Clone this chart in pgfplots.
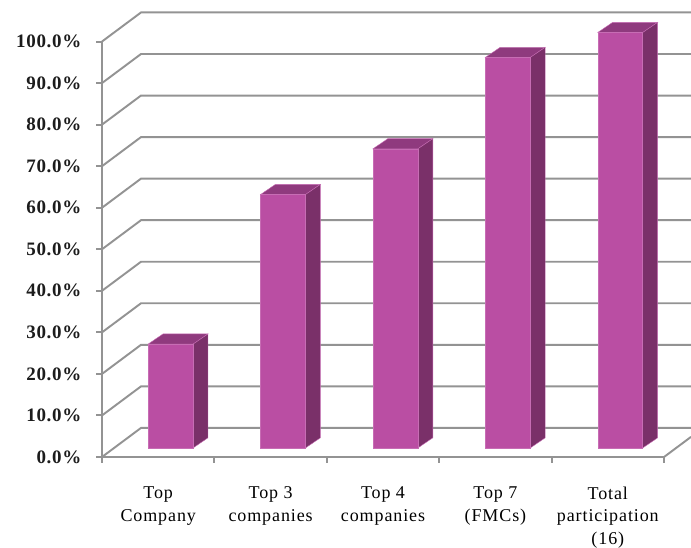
\documentclass[border=0pt]{standalone}
\usepackage{pgfplots}
\pgfplotsset{compat=1.18}
\usepackage{fontspec}
\setmainfont{Liberation Serif}
\definecolor{gridgray}{HTML}{939393}
\definecolor{barfront}{HTML}{BA4EA3}
\definecolor{barside}{HTML}{7A3069}
\definecolor{bartop}{HTML}{8F3A7E}
\definecolor{baredge}{HTML}{C76DB4}
\definecolor{labelblack}{HTML}{1C1C1C}
\newlength{\pxu}
\setlength{\pxu}{0.75pt}

% One gridline: front edge of the left wall, then along the back wall
\newcommand{\wallline}[1]{%
  \pgfmathsetmacro{\backy}{#1+7}%
  \addplot[gridgray, line width=1.45pt] coordinates {(0,#1) (0.347,\backy) (5.24,\backy)};
}
% One column with a front, a side and a top face: category index, value
\newcommand{\column}[2]{%
  \pgfmathsetmacro{\xa}{#1+0.41}%
  \pgfmathsetmacro{\xb}{#1+0.81}%
  \pgfmathsetmacro{\xc}{#1+0.943}%
  \pgfmathsetmacro{\xd}{#1+0.543}%
  \pgfmathsetmacro{\ya}{2.17}%
  \pgfmathsetmacro{\yb}{2.17+#2}%
  \pgfmathsetmacro{\yc}{2.17+#2+2.45}%
  \pgfmathsetmacro{\yd}{2.17+2.45}%
  \addplot[fill=bartop, draw=baredge, line width=0.3pt] coordinates {(\xa,\yb) (\xb,\yb) (\xc,\yc) (\xd,\yc)} -- cycle;
  \addplot[fill=barside, draw=baredge, line width=0.3pt] coordinates {(\xb,\ya) (\xc,\yd) (\xc,\yc) (\xb,\yb)} -- cycle;
  \addplot[fill=barfront, draw=baredge, line width=0.3pt] coordinates {(\xa,\ya) (\xb,\ya) (\xb,\yb) (\xa,\yb)} -- cycle;
}

\begin{document}
\begin{tikzpicture}
\useasboundingbox (0,0) rectangle (691\pxu,548\pxu);
\begin{axis}[
  at={(102\pxu,91\pxu)}, anchor=south west,
  scale only axis,
  width=589\pxu, height=457\pxu,
  xmin=0, xmax=5.24, ymin=0, ymax=110,
  clip=false,
  axis lines=left,
  axis line style={draw=none, -},
  tick align=outside,
  major tick length=6\pxu,
  tick style={gridgray, line width=1.45pt},
  xtick={0,1,2,3,4,5},
  xticklabels={},
  extra x ticks={0.5,1.5,2.5,3.5,4.5},
  extra x tick labels={Top\\Company, Top 3\\companies, Top 4\\companies, Top 7\\(FMCs), Total\\participation\\(16)},
  extra x tick style={
    major tick length=0pt,
    tick style={draw=none},
    ticklabel style={align=center, anchor=north, yshift=-25\pxu,
      font=\fontsize{13.5}{17}\selectfont\addfontfeatures{LetterSpace=5}},
  },
  ytick={0,10,20,30,40,50,60,70,80,90,100},
  yticklabels={0.0\%,10.0\%,20.0\%,30.0\%,40.0\%,50.0\%,60.0\%,70.0\%,80.0\%,90.0\%,100.0\%},
  yticklabel style={font=\fontsize{14.25}{16}\selectfont\bfseries\addfontfeatures{LetterSpace=3.5}, text=labelblack, anchor=east, xshift=-10\pxu},
]
  % Floor edges
  \addplot[gridgray, line width=1.45pt] coordinates {(0,0) (5,0) (5.24,4.84)};
  % Vertical axis line
  \addplot[gridgray, line width=1.45pt] coordinates {(0,0) (0,100)};
  \wallline{0}
  \wallline{10}
  \wallline{20}
  \wallline{30}
  \wallline{40}
  \wallline{50}
  \wallline{60}
  \wallline{70}
  \wallline{80}
  \wallline{90}
  \wallline{100}
  \column{0}{25}
  \column{1}{61}
  \column{2}{72}
  \column{3}{94}
  \column{4}{100}
\end{axis}
\end{tikzpicture}
\end{document}
